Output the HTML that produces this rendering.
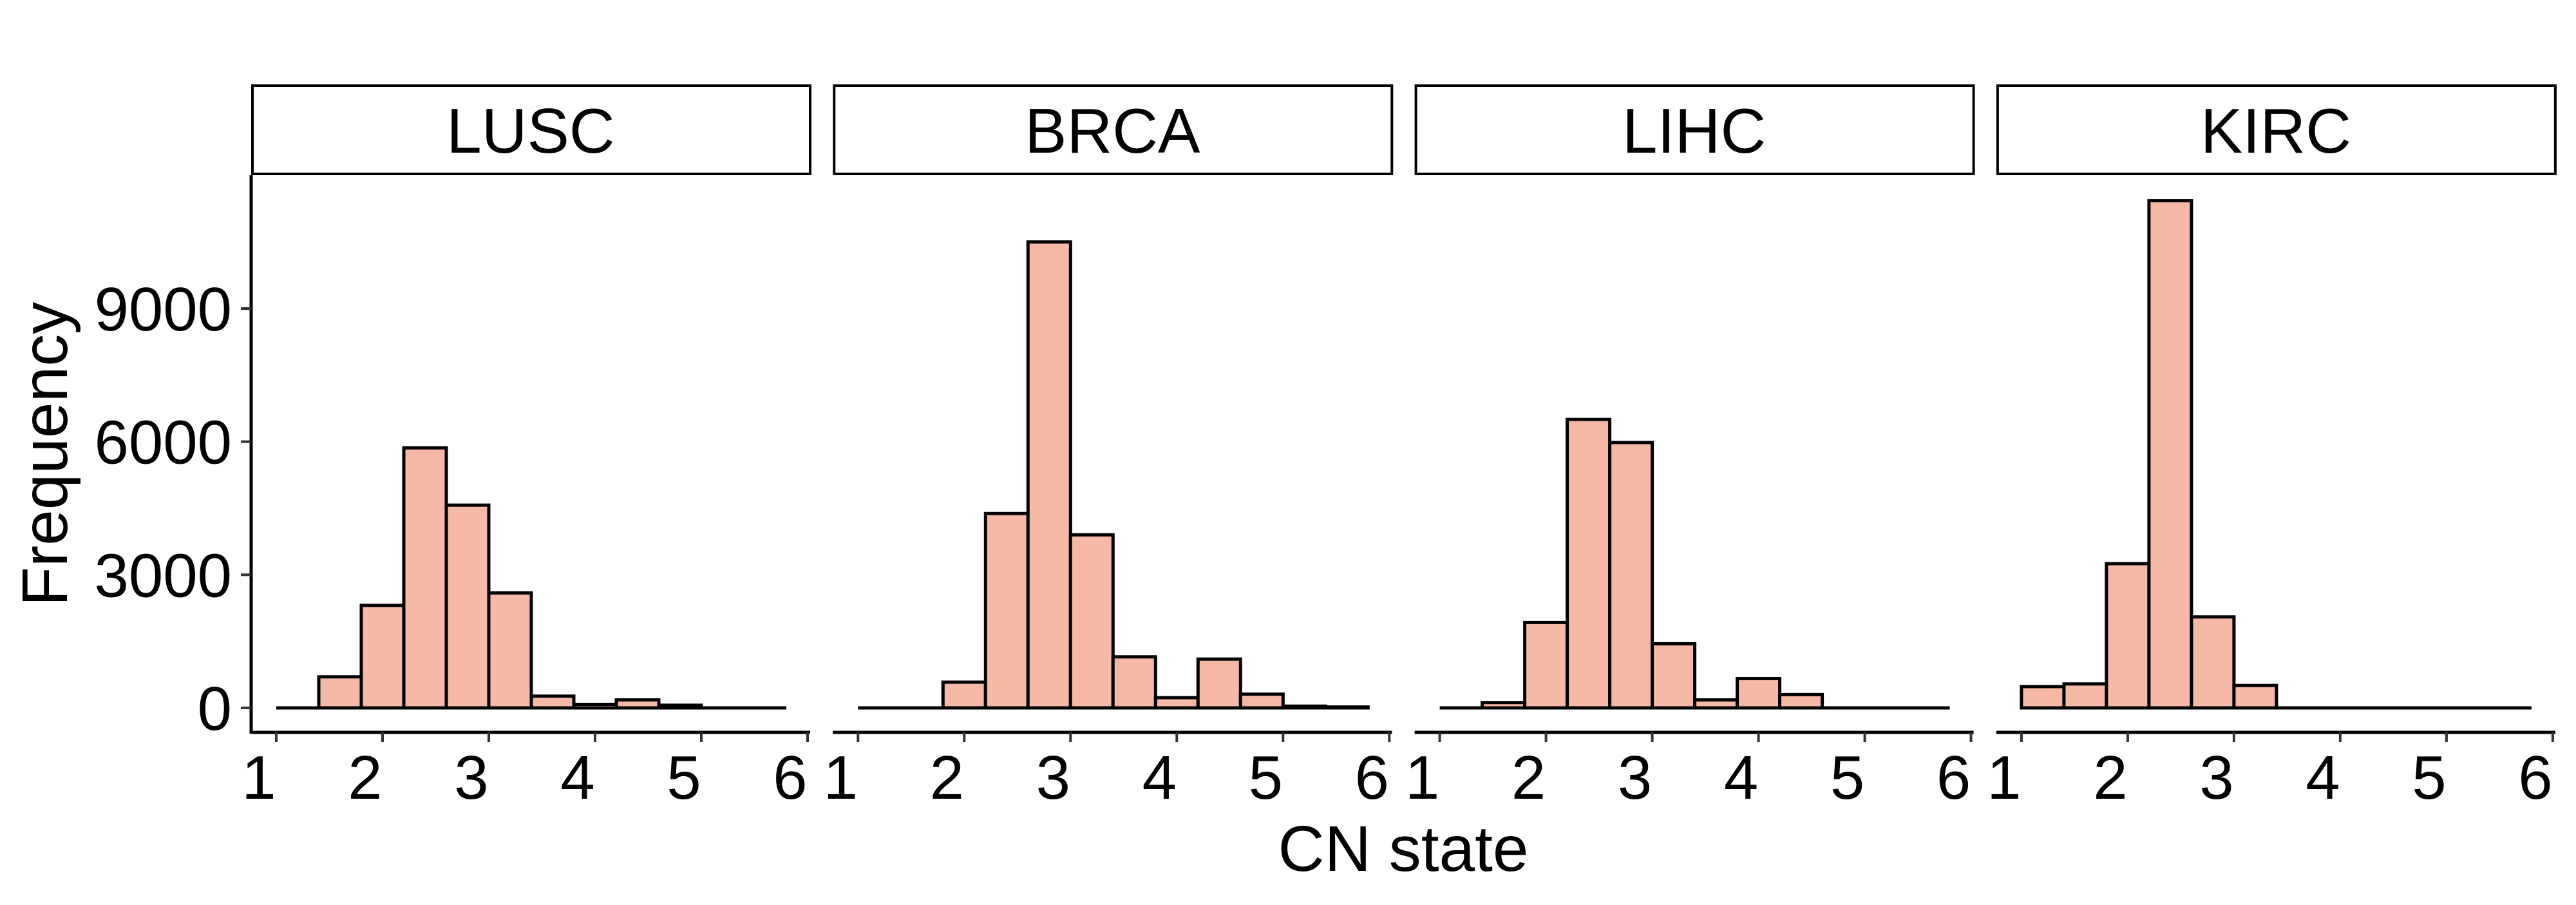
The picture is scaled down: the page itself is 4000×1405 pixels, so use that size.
<!DOCTYPE html>
<html><head><meta charset="utf-8"><style>
html,body{margin:0;padding:0;background:#fff;}
svg text{font-family:"Liberation Sans",sans-serif;fill:#000;}
</style></head><body>
<svg id="chart" width="4000" height="1400" viewBox="0 0 4000 1400" xmlns="http://www.w3.org/2000/svg">
<rect width="4000" height="1400" fill="#fff"/>
<g id="root"></g>
</svg>
<script>
const panels = ["LUSC","BRCA","LIHC","KIRC"];
const binEdges = [1.0,1.4,1.8,2.2,2.6,3.0,3.4,3.8,4.2,4.6,5.0,5.4];
const binWidth = 0.4;
const lusc = [0,700,2310,5860,4570,2590,265,80,180,60,0,0];
const brca = [0,0,580,4380,10500,3900,1150,230,1100,310,40,20];
const lihc = [0,120,1925,6500,5980,1445,180,660,300,0,0,0];
const kirc = [480,540,3250,11430,2050,505,0,0,0,0,0,0];
const xTicks = [1,2,3,4,5,6];
const yTicks = [0,3000,6000,9000];

const series = [lusc,brca,lihc,kirc];
const NS="http://www.w3.org/2000/svg";
const root=document.getElementById('root');
function mk(tag,attrs,parent){const e=document.createElementNS(NS,tag);for(const k in attrs)e.setAttribute(k,attrs[k]);(parent||root).appendChild(e);return e;}
const panelLeft0=390, panelStep=903.3, panelW=868;
const y0=1099, pxPerUnit=620/9000;
function yScale(v){return y0 - v*pxPerUnit;}
function xScale(p,v){return panelLeft0 + p*panelStep + 39 + (v-1)*165;}
const FILL="#F5B9A6";

panels.forEach((name,p)=>{
  const L=panelLeft0+p*panelStep;
  const g=mk('g',{});
  
  
  const strip=mk('rect',{x:L+2,y:133,width:panelW-2,height:137,fill:'#fff',stroke:'#000','stroke-width':4},g);
  
  
  const st=mk('text',{x:L+panelW/2,y:237,'text-anchor':'middle','font-size':98},g);
  st.textContent=name;
  
  
  const bx0=xScale(p,binEdges[0]), bx1=xScale(p,binEdges[binEdges.length-1]+binWidth);
  const base=mk('line',{x1:bx0,x2:bx1,y1:y0,y2:y0,stroke:'#000','stroke-width':5},g);
  
  
  series[p].forEach((v,i)=>{
    if(v<=0) return;
    const xa=xScale(p,binEdges[i]), xb=xScale(p,binEdges[i]+binWidth);
    const r=mk('rect',{x:xa,y:yScale(v),width:xb-xa,height:y0-yScale(v),fill:FILL,stroke:'#000','stroke-width':5},g);
    
    
  });
  const ax=mk('line',{x1:L,x2:L+panelW,y1:1137,y2:1137,stroke:'#000','stroke-width':5},g);
  
  
  xTicks.forEach(t=>{
    const x=xScale(p,t);
    const tk=mk('line',{x1:x,x2:x,y1:1137,y2:1152,stroke:'#333','stroke-width':4},g);
    
    
    const tl=mk('text',{x:x-27,y:1240,'text-anchor':'middle','font-size':96},g);
    tl.textContent=t;
    
    
  });
});
const yax=mk('line',{x1:390,x2:390,y1:272,y2:1139,stroke:'#000','stroke-width':5});


yTicks.forEach(t=>{
  const y=yScale(t);
  const tk=mk('line',{x1:374,x2:390,y1:y,y2:y,stroke:'#333','stroke-width':4});
  
  
  const tl=mk('text',{x:360,y:y+34,'text-anchor':'end','font-size':96});
  tl.textContent=t;
  
  
});
const yt=mk('text',{x:0,y:0,'text-anchor':'middle','font-size':100,transform:'translate(104,705) rotate(-90)'});
yt.textContent='Frequency';


const xt=mk('text',{x:2179,y:1352,'text-anchor':'middle','font-size':100});
xt.textContent='CN state';


</script>
</body></html>
